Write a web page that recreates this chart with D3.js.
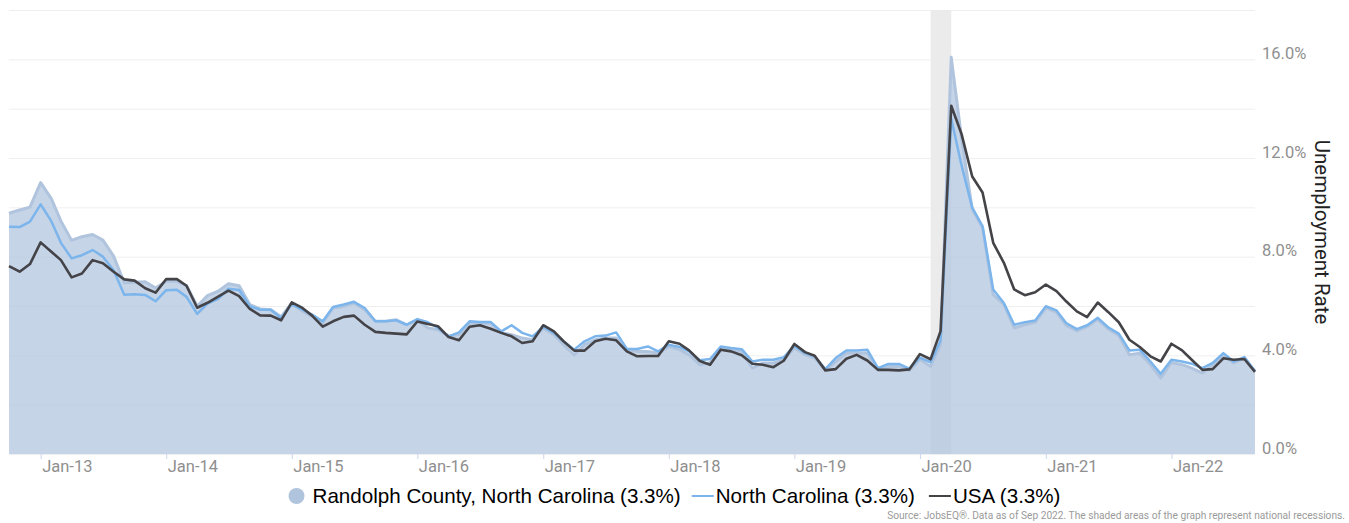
<!DOCTYPE html>
<html>
<head>
<meta charset="utf-8">
<script src="https://cdn.jsdelivr.net/npm/d3@7"></script>
<style>
  html, body { margin: 0; padding: 0; background: #fff; }
  svg { display: block; }
</style>
</head>
<body>
<svg id="chart" width="1349" height="523"></svg>
<script>
// ---- Data (monthly, Oct 2012 .. Sep 2022) ----
const startMonth = new Date(2012, 9, 1);
const randolph = [
  9.76, 9.89, 10.01, 11.0, 10.35, 9.44, 8.66, 8.81, 8.90, 8.67, 8.02, 6.94,
  6.96, 6.98, 6.73, 7.0, 7.0, 6.83, 5.99, 6.42, 6.60, 6.90, 6.82, 6.06,
  5.88, 5.85, 5.56, 6.12, 5.79, 5.58, 5.31, 5.92, 5.99, 6.12, 5.85, 5.38,
  5.38, 5.44, 5.24, 5.44, 5.11, 5.04, 4.77, 4.84, 5.31, 5.31, 5.31, 4.91,
  4.84, 4.70, 4.63, 5.11, 4.84, 4.43, 4.02, 4.43, 4.63, 4.70, 4.70, 4.23,
  4.16, 4.16, 4.09, 4.36, 4.23, 4.02, 3.62, 3.70, 4.30, 4.23, 4.16, 3.48,
  3.69, 3.69, 3.82, 4.30, 4.02, 3.89, 3.41, 3.75, 4.09, 4.09, 4.09, 3.41,
  3.55, 3.55, 3.38, 3.84, 3.55, 4.43, 16.08, 12.8, 9.92, 9.17, 6.46, 6.06,
  5.11, 5.24, 5.34, 5.92, 5.75, 5.21, 4.99, 5.16, 5.46, 5.07, 4.80, 4.02,
  4.09, 3.62, 3.08, 3.71, 3.62, 3.48, 3.28, 3.62, 4.02, 3.69, 3.89, 3.35
];
const northCarolina = [
  9.21, 9.20, 9.42, 10.12, 9.44, 8.56, 7.93, 8.06, 8.27, 8.00, 7.45, 6.46,
  6.48, 6.45, 6.19, 6.64, 6.66, 6.37, 5.68, 6.10, 6.29, 6.70, 6.65, 5.99,
  5.85, 5.85, 5.51, 6.06, 5.85, 5.65, 5.38, 5.96, 6.06, 6.17, 5.92, 5.38,
  5.38, 5.42, 5.24, 5.47, 5.34, 5.11, 4.77, 4.93, 5.38, 5.35, 5.35, 4.97,
  5.22, 4.91, 4.77, 5.15, 4.91, 4.57, 4.23, 4.57, 4.77, 4.80, 4.93, 4.26,
  4.26, 4.36, 4.16, 4.43, 4.34, 4.16, 3.80, 3.85, 4.36, 4.30, 4.25, 3.75,
  3.82, 3.82, 3.92, 4.39, 4.09, 3.96, 3.44, 3.89, 4.20, 4.20, 4.23, 3.48,
  3.65, 3.65, 3.46, 3.91, 3.72, 4.60, 13.6, 11.7, 9.99, 9.24, 6.67, 6.12,
  5.24, 5.34, 5.41, 5.99, 5.82, 5.31, 5.06, 5.22, 5.52, 5.14, 4.88, 4.20,
  4.23, 3.75, 3.25, 3.82, 3.75, 3.66, 3.48, 3.69, 4.09, 3.75, 3.93, 3.35
];
const usa = [
  7.62, 7.39, 7.70, 8.58, 8.20, 7.86, 7.16, 7.32, 7.86, 7.73, 7.39, 7.08,
  7.03, 6.72, 6.54, 7.09, 7.09, 6.82, 5.93, 6.13, 6.38, 6.62, 6.40, 5.88,
  5.62, 5.61, 5.42, 6.15, 5.92, 5.61, 5.16, 5.38, 5.56, 5.61, 5.24, 4.95,
  4.91, 4.88, 4.85, 5.37, 5.27, 5.18, 4.74, 4.61, 5.16, 5.22, 5.08, 4.91,
  4.77, 4.50, 4.57, 5.22, 4.97, 4.57, 4.19, 4.19, 4.57, 4.67, 4.61, 4.16,
  3.96, 3.97, 3.97, 4.57, 4.47, 4.20, 3.77, 3.62, 4.23, 4.16, 4.00, 3.66,
  3.62, 3.52, 3.78, 4.46, 4.13, 3.98, 3.39, 3.44, 3.86, 4.02, 3.79, 3.41,
  3.41, 3.39, 3.43, 4.05, 3.84, 4.98, 14.12, 12.97, 11.25, 10.60, 8.56, 7.75,
  6.67, 6.44, 6.56, 6.87, 6.60, 6.19, 5.78, 5.55, 6.14, 5.76, 5.34, 4.63,
  4.34, 3.96, 3.75, 4.47, 4.20, 3.82, 3.41, 3.44, 3.88, 3.82, 3.85, 3.33
];
const seriesNames = ["Randolph County, North Carolina (3.3%)", "North Carolina (3.3%)", "USA (3.3%)"];
const recessions = [[new Date(2020, 1, 1), new Date(2020, 3, 1)]];
const yTicks = [0, 4, 8, 12, 16];
const yGrid = [0, 2, 4, 6, 8, 10, 12, 14, 16, 18];
const xTickYears = [2013, 2014, 2015, 2016, 2017, 2018, 2019, 2020, 2021, 2022];
const yTitle = "Unemployment Rate";
const sourceText = "Source: JobsEQ®. Data as of Sep 2022. The shaded areas of the graph represent national recessions.";

// ---- Layout ----
const W = 1349, H = 523;
const plot = { left: 9, right: 1255, top: 10, bottom: 454 };
const dates = randolph.map((_, i) => d3.timeMonth.offset(startMonth, i));

const x = d3.scaleTime()
  .domain([dates[0], dates[dates.length - 1]])
  .range([plot.left, plot.right]);
const y = d3.scaleLinear().domain([0, 18]).range([plot.bottom, plot.top]);

const svg = d3.select("#chart");
const colors = { area: "#b0c4de", nc: "#7cb5ec", usa: "#434348" };

// gridlines
svg.append("g").selectAll("line").data(yGrid).join("line")
  .attr("x1", plot.left).attr("x2", plot.right)
  .attr("y1", d => y(d) + 0.5).attr("y2", d => y(d) + 0.5)
  .attr("stroke", "#efefef").attr("stroke-width", 1);

// recession bands
svg.append("g").selectAll("rect").data(recessions).join("rect")
  .attr("x", d => x(d[0])).attr("width", d => x(d[1]) - x(d[0]))
  .attr("y", plot.top).attr("height", plot.bottom - plot.top)
  .attr("fill", "#ebebeb");

// area (Randolph)
const area = d3.area().x((d, i) => x(dates[i])).y0(y(0)).y1(d => y(d));
const lineGen = d3.line().x((d, i) => x(dates[i])).y(d => y(d));

svg.append("path").datum(randolph)
  .attr("d", area)
  .attr("fill", colors.area).attr("fill-opacity", 0.72);
svg.append("path").datum(randolph)
  .attr("d", lineGen)
  .attr("fill", "none").attr("stroke", colors.area).attr("stroke-width", 3)
  .attr("stroke-linejoin", "round");

svg.append("path").datum(northCarolina)
  .attr("d", lineGen)
  .attr("fill", "none").attr("stroke", colors.nc).attr("stroke-width", 2.5)
  .attr("stroke-linejoin", "round");

svg.append("path").datum(usa)
  .attr("d", lineGen)
  .attr("fill", "none").attr("stroke", colors.usa).attr("stroke-width", 2.6)
  .attr("stroke-linejoin", "round");

// x axis
const xAxis = d3.axisBottom(x)
  .tickValues(xTickYears.map(yr => new Date(yr, 0, 1)))
  .tickFormat(d3.timeFormat("%b-%y"))
  .tickSize(5).tickSizeOuter(0);
const gx = svg.append("g").attr("transform", `translate(0,${plot.bottom})`).call(xAxis);
gx.select(".domain").remove();
gx.selectAll(".tick line").attr("stroke", "#ccd6eb");
gx.selectAll(".tick text")
  .attr("text-anchor", "start").attr("x", 1).attr("y", 0).attr("dy", 18)
  .attr("fill", "#8f8f8f")
  .style("font-family", "Roboto, sans-serif").style("font-size", "16.5px");

// y axis (right)
const yAxis = d3.axisRight(y).tickValues(yTicks)
  .tickFormat(d => d3.format(".1f")(d) + "%").tickSize(0);
const gy = svg.append("g").attr("transform", `translate(${plot.right + 7},0)`).call(yAxis);
gy.select(".domain").remove();
gy.selectAll(".tick text")
  .attr("x", 0).attr("dy", -1)
  .attr("fill", "#8f8f8f")
  .style("font-family", "Roboto, sans-serif").style("font-size", "16.5px");

// y title
svg.append("text")
  .attr("transform", `translate(1315, ${(plot.top + plot.bottom) / 2}) rotate(90)`)
  .attr("text-anchor", "middle")
  .attr("fill", "#222")
  .style("font-family", "Roboto, sans-serif").style("font-size", "20.5px")
  .text(yTitle);

// legend
const legend = svg.append("g");
const legendY = 496;
const items = [
  { name: seriesNames[0], type: "circle", color: colors.area },
  { name: seriesNames[1], type: "line", color: colors.nc },
  { name: seriesNames[2], type: "line", color: colors.usa }
];
let cx = 0;
const gaps = [11, 14];
items.forEach((it, idx) => {
  const g = legend.append("g").attr("transform", `translate(${cx},0)`);
  let symW;
  if (it.type === "circle") {
    g.append("circle").attr("cx", 8).attr("cy", legendY).attr("r", 8).attr("fill", it.color);
    symW = 24;
  } else {
    g.append("line").attr("x1", 0).attr("x2", 22).attr("y1", legendY).attr("y2", legendY)
      .attr("stroke", it.color).attr("stroke-width", 2);
    symW = 24;
  }
  const t = g.append("text").attr("x", symW).attr("y", legendY).attr("dy", "0.35em")
    .attr("fill", "#000")
    .style("font-family", "'Liberation Sans', Arial, sans-serif").style("font-size", "20.6px")
    .text(it.name);
  const tw = t.node().getComputedTextLength();
  cx += symW + tw + (gaps[idx] || 0);
});
const totalW = cx;
legend.attr("transform", `translate(${W / 2 - totalW / 2},0)`);

// source
svg.append("text")
  .attr("x", 1345).attr("y", 519)
  .attr("text-anchor", "end").attr("fill", "#9a9a9a")
  .style("font-family", "Roboto, sans-serif").style("font-size", "10.2px")
  .text(sourceText);
</script>
</body>
</html>
